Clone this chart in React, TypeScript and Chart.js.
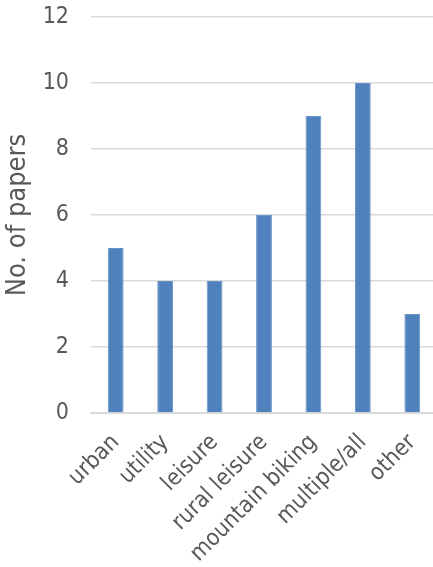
import React, { useEffect, useRef } from "react";
import { Chart, registerables } from "chart.js";

Chart.register(...registerables);

const categories = [
  "urban",
  "utility",
  "leisure",
  "rural leisure",
  "mountain biking",
  "multiple/all",
  "other",
];
const paperCounts = [5, 4, 4, 6, 9, 10, 3];
const yTicks = [0, 2, 4, 6, 8, 10, 12];

const FONT = "'DejaVu Sans Condensed', 'DejaVu Sans', sans-serif";
const TEXT = "#595959";
const GRID = "#d9d9d9";

export default function App() {
  const canvasRef = useRef<HTMLCanvasElement | null>(null);

  useEffect(() => {
    document.body.style.overflow = "hidden";
    const canvas = canvasRef.current;
    if (!canvas) return;
    const chart = new Chart(canvas, {
      type: "bar",
      data: {
        labels: categories,
        datasets: [
          {
            label: "No. of papers",
            data: paperCounts,
            backgroundColor: "#4f81bd",
            borderColor: "#6a94c9",
            borderWidth: 1,
            categoryPercentage: 1,
            barPercentage: 0.32,
          },
        ],
      },
      options: {
        animation: false,
        responsive: false,
        maintainAspectRatio: false,
        layout: { padding: { top: 17, right: 0, left: 0, bottom: 0 } },
        plugins: {
          legend: { display: false },
          tooltip: { enabled: false },
        },
        scales: {
          x: {
            grid: { display: false, drawTicks: false },
            border: { display: true, color: GRID, width: 2 },
            ticks: {
              color: TEXT,
              font: { family: FONT, size: 23 },
              minRotation: 45,
              maxRotation: 45,
              autoSkip: false,
              padding: 16,
            },
            afterFit: (scale: any) => {
              // fixed band for the slanted labels; the plot runs to the right edge
              scale.height = 154;
              scale.paddingLeft = 0;
              scale.paddingRight = 0;
            },
          },
          y: {
            min: 0,
            max: 12,
            afterBuildTicks: (scale: any) => {
              scale.ticks = yTicks.map((v) => ({ value: v }));
            },
            grid: { color: GRID, lineWidth: 1.5, drawTicks: false },
            border: { display: false },
            ticks: {
              color: TEXT,
              font: { family: FONT, size: 23 },
              padding: 22,
            },
            title: {
              display: true,
              text: "No. of papers",
              color: TEXT,
              font: { family: FONT, size: 27 },
              padding: { top: 2, bottom: 0 },
            },
            afterFit: (scale: any) => {
              scale.width = 91;
              scale.paddingTop = 0;
              scale.paddingBottom = 0;
            },
          },
        },
      },
    });
    return () => chart.destroy();
  }, []);

  return (
    <div style={{ position: "absolute", left: 0, top: 0 }}>
      <canvas
        ref={canvasRef}
        width={437}
        height={567}
        style={{ display: "block", width: 437, height: 567 }}
      />
    </div>
  );
}
